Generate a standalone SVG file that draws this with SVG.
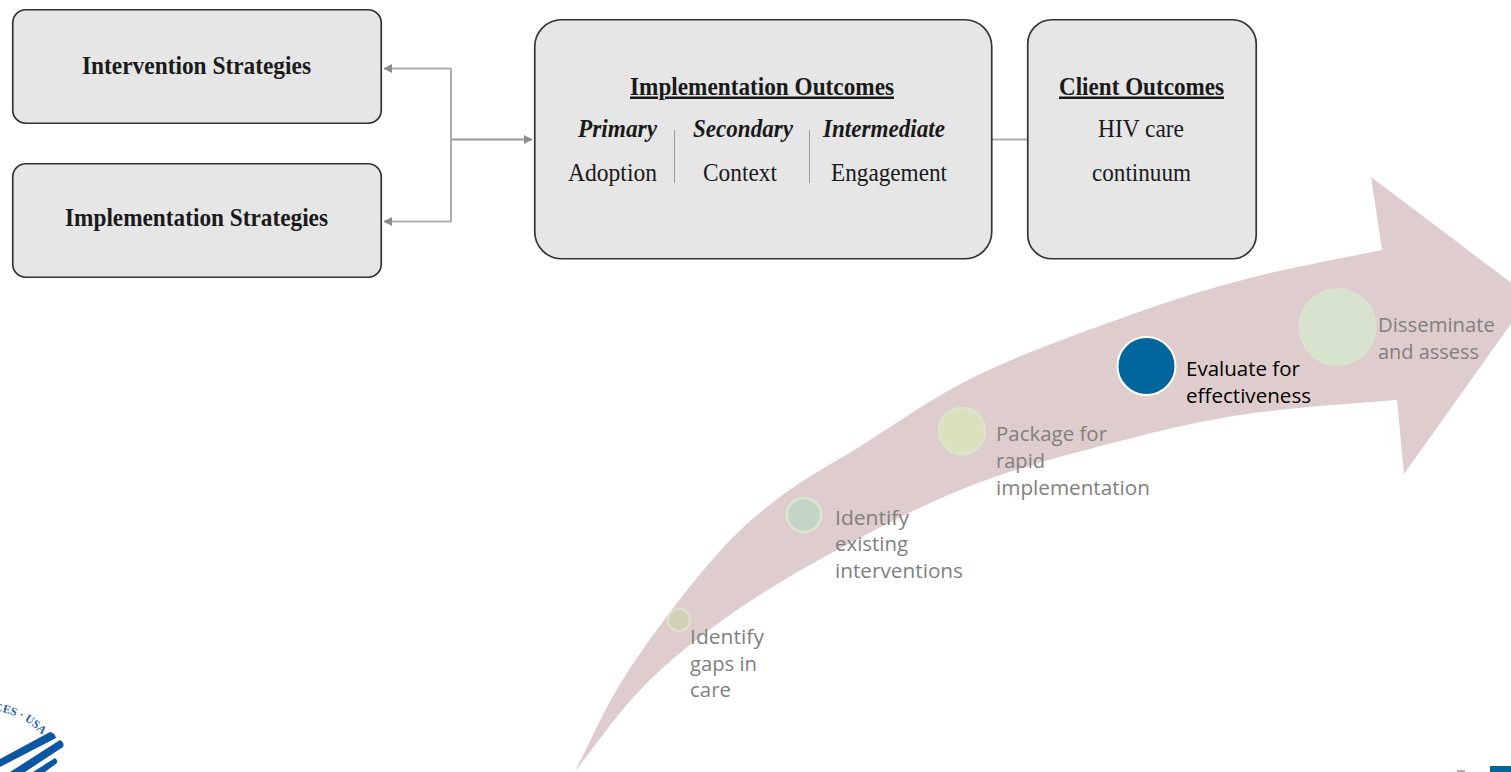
<svg xmlns="http://www.w3.org/2000/svg" width="1511" height="772" viewBox="0 0 1511 772">
<style>
.box{fill:#e6e6e6;stroke:#333;stroke-width:1.7}
.t{font-family:"Liberation Serif","Times New Roman",serif;font-size:25px;fill:#1a1a1a}
.b{font-weight:bold}
.i{font-weight:bold;font-style:italic}
.u{text-decoration:underline}
.s{font-family:"Open Sans","Noto Sans",sans-serif;font-size:20.6px;fill:#7f7f7f}
.d{fill:#000}
.c{fill:none;stroke:#adadad;stroke-width:2}
.c2{fill:none;stroke:#999;stroke-width:2}
.sep{stroke:#9a9a9a;stroke-width:1;fill:none}
.st{fill:#0b57a4}
</style>
<defs>
<marker id="ah" markerUnits="userSpaceOnUse" markerWidth="9" markerHeight="10" refX="8" refY="5" orient="auto-start-reverse"><path d="M0,0.5 L8.500,5 L0,9.500Z" fill="#8c8c8c"/></marker>
</defs>
<path id="big-arrow" d="M575,771 C592.300,738.300 604.200,708.200 627,673 C649.800,637.800 686.500,589.300 712,560 C737.500,530.700 755.500,515.800 780,497 C804.500,478.200 826,467.300 859,447 C892,426.700 931.800,397.300 978,375 C1024.200,352.700 1090,329.300 1136,313 C1182,296.700 1213,287.500 1254,277 C1295,266.500 1339,259 1382,250 L1371,177 L1530,297 L1404,474 L1397,400 C1349,404 1297.500,406.800 1254,413 C1210.500,419.200 1182,425.300 1136,437 C1090,448.700 1027.800,464.200 978,483 C928.200,501.800 878.800,527.700 837,550 C795.200,572.300 759.300,594.200 727,617 C694.700,639.800 668.300,661.300 643,687 C617.700,712.700 597.700,743 575,771Z" fill="#dfcdcd"/>
<g id="connectors">
<path class="c" d="M451,68.500 H384" marker-end="url(#ah)"/>
<path class="c" d="M451,68.500 V221.500 H384" marker-end="url(#ah)"/>
<path class="c2" d="M451,139.500 H532" marker-end="url(#ah)"/>
<path class="c" d="M992,139.500 H1027"/>
</g>
<g id="intervention-strategies">
<rect class="box" x="12.750" y="9.750" width="368.500" height="113.500" rx="13"/>
<text class="t b" x="82" y="73.500" textLength="229" lengthAdjust="spacingAndGlyphs">Intervention Strategies</text>
</g>
<g id="implementation-strategies">
<rect class="box" x="12.750" y="163.750" width="368.500" height="113.500" rx="13"/>
<text class="t b" x="65" y="226" textLength="263" lengthAdjust="spacingAndGlyphs">Implementation Strategies</text>
</g>
<g id="implementation-outcomes">
<rect class="box" x="534.750" y="19.750" width="457" height="239" rx="27"/>
<text class="t b u" x="630" y="94.500" textLength="264" lengthAdjust="spacingAndGlyphs">Implementation Outcomes</text>
<text class="t i" x="578" y="136.500" textLength="79" lengthAdjust="spacingAndGlyphs">Primary</text>
<text class="t i" x="693" y="136.500" textLength="100" lengthAdjust="spacingAndGlyphs">Secondary</text>
<text class="t i" x="823" y="136.500" textLength="122" lengthAdjust="spacingAndGlyphs">Intermediate</text>
<text class="t" x="568" y="180.500" textLength="89" lengthAdjust="spacingAndGlyphs">Adoption</text>
<text class="t" x="703" y="180.500" textLength="74" lengthAdjust="spacingAndGlyphs">Context</text>
<text class="t" x="831" y="180.500" textLength="116" lengthAdjust="spacingAndGlyphs">Engagement</text>
<path class="sep" d="M674.500,130 V183 M809.500,130 V183"/>
</g>
<g id="client-outcomes">
<rect class="box" x="1027.750" y="19.750" width="228.500" height="239" rx="24"/>
<text class="t b u" x="1059" y="94.500" textLength="165" lengthAdjust="spacingAndGlyphs">Client Outcomes</text>
<text class="t" x="1098" y="136.500" textLength="86" lengthAdjust="spacingAndGlyphs">HIV care</text>
<text class="t" x="1092" y="180.500" textLength="99" lengthAdjust="spacingAndGlyphs">continuum</text>
</g>
<g id="step-gaps">
<circle cx="679" cy="620" r="11" fill="#d2d0b8" stroke="#dbe6cf" stroke-width="2"/>
<text class="s" x="690" y="644" textLength="74" lengthAdjust="spacingAndGlyphs">Identify</text>
<text class="s" x="690" y="671" textLength="67" lengthAdjust="spacingAndGlyphs">gaps in</text>
<text class="s" x="690" y="697" textLength="41" lengthAdjust="spacingAndGlyphs">care</text>
</g>
<g id="step-existing">
<circle cx="804" cy="515" r="17" fill="#c3d5c6" stroke="#dbe6cf" stroke-width="2.500"/>
<text class="s" x="835" y="525" textLength="74" lengthAdjust="spacingAndGlyphs">Identify</text>
<text class="s" x="835" y="551" textLength="73" lengthAdjust="spacingAndGlyphs">existing</text>
<text class="s" x="835" y="578" textLength="128" lengthAdjust="spacingAndGlyphs">interventions</text>
</g>
<g id="step-package">
<circle cx="962" cy="431" r="23" fill="#dde0bd" stroke="#d9e6cf" stroke-width="2.500"/>
<text class="s" x="996" y="441" textLength="111" lengthAdjust="spacingAndGlyphs">Package for</text>
<text class="s" x="996" y="468" textLength="49" lengthAdjust="spacingAndGlyphs">rapid</text>
<text class="s" x="996" y="495" textLength="154" lengthAdjust="spacingAndGlyphs">implementation</text>
</g>
<g id="step-evaluate">
<circle cx="1146.500" cy="366" r="29" fill="#00669b" stroke="#fff" stroke-width="2"/>
<text class="s d" x="1186" y="376" textLength="114" lengthAdjust="spacingAndGlyphs">Evaluate for</text>
<text class="s d" x="1186" y="403" textLength="125" lengthAdjust="spacingAndGlyphs">effectiveness</text>
</g>
<g id="step-disseminate">
<circle cx="1337.500" cy="327" r="38" fill="#d7e3cf" stroke="#d9e6d0" stroke-width="1.500"/>
<text class="s" x="1378" y="332" textLength="117" lengthAdjust="spacingAndGlyphs">Disseminate</text>
<text class="s" x="1378" y="359" textLength="101" lengthAdjust="spacingAndGlyphs">and assess</text>
</g>
<g id="logo">
<path id="logoarc" d="M-6,711 C10,712 30,720 44,737" fill="none"/>
<text font-family="Liberation Serif,serif" font-size="11.500" font-weight="bold" fill="#1f5fa8"><textPath href="#logoarc">CES · USA</textPath></text>
<path class="st" d="M0,759 L50,732 Q55,733 56,738 L0,767Z M10,772 L60,740 Q65,743 63,747 L25,772Z M33,772 L55,758 Q58,760 57,763 L45,772Z"/>
</g>
<rect id="corner-bar" x="1490" y="766" width="21" height="6" fill="#00669b"/>
<rect id="corner-dot" x="1457" y="770" width="8" height="2" fill="#b3a8a8"/>
</svg>
